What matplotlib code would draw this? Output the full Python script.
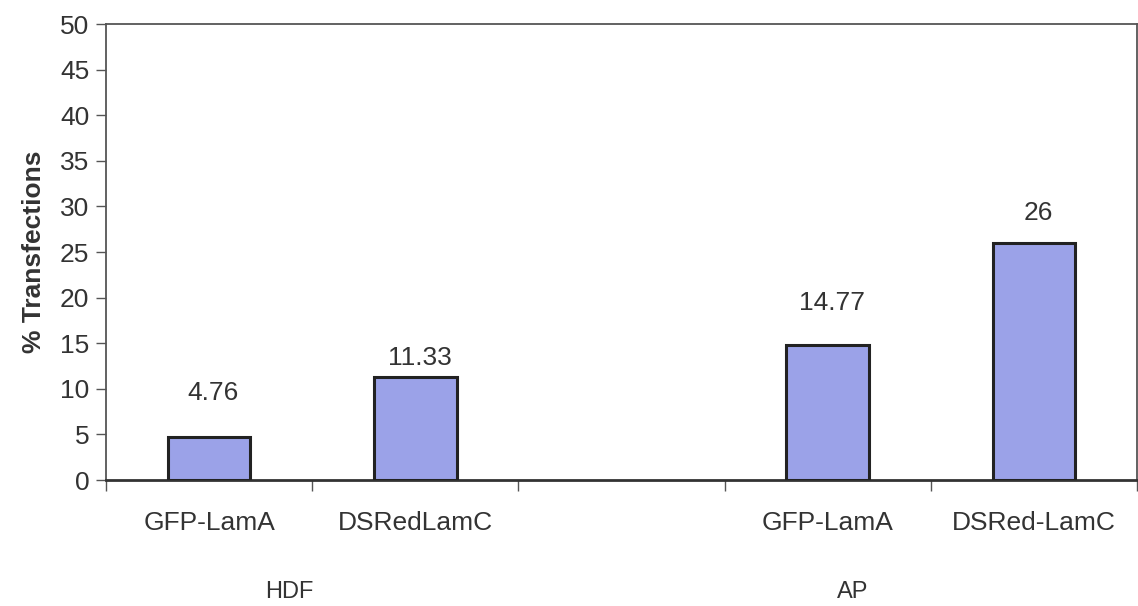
import matplotlib.pyplot as plt
import numpy as np

plt.rcParams["font.family"] = ["Liberation Sans", "DejaVu Sans"]

# -------------------------------------------------------
# Transfection efficiency per construct and cell type
# -------------------------------------------------------
constructs = ["GFP-LamA", "DSRedLamC", "", "GFP-LamA", "DSRed-LamC"]
pct_transfected = [4.76, 11.33, None, 14.77, 26]
value_text = ["4.76", "11.33", None, "14.77", "26"]
cell_types = ["HDF", "AP"]
cell_type_pos = [0.39, 3.12]

BAR_COLOR = "#9ba2e8"
EDGE = "#222222"
TEXT = "#333333"
FRAME = "#555555"

# gap above each bar for its value text (points)
label_gap = [23, 5, 22, 13]

fig = plt.figure(figsize=(11.38, 6.06), dpi=100)
ax = fig.add_axes([106 / 1138, 1 - 480 / 606, 1031 / 1138, 456 / 606])

x = np.arange(len(constructs))
keep = [i for i, v in enumerate(pct_transfected) if v is not None]
heights = [pct_transfected[i] for i in keep]
bars = ax.bar(x[keep], heights, width=0.4, color=BAR_COLOR,
              edgecolor=EDGE, linewidth=2.2, zorder=3)

for bar, i, gap in zip(bars, keep, label_gap):
    ax.annotate(value_text[i], (bar.get_x() + bar.get_width() / 2, bar.get_height()),
                xytext=(3, gap), textcoords="offset points",
                ha="center", va="bottom", fontsize=19, color=TEXT)

ax.set_xlim(-0.5, len(constructs) - 0.5)
ax.set_ylim(0, 50)
ax.set_yticks(np.arange(0, 51, 5))
ax.tick_params(axis="y", labelsize=19, labelcolor=TEXT, color=FRAME,
               length=7, width=1, pad=5)

# construct names sit under bars, ticks mark the slot boundaries
ax.set_xticks(np.arange(-0.5, len(constructs)), minor=False)
ax.set_xticklabels([])
ax.tick_params(axis="x", color=FRAME, length=8, width=1)
ax.set_xticks(x, minor=True)
ax.set_xticklabels(constructs, minor=True)
ax.tick_params(axis="x", which="minor", length=0, labelsize=19,
               labelcolor=TEXT, pad=22)

for name, pos in zip(cell_types, cell_type_pos):
    ax.text(pos, -0.245, name, transform=ax.get_xaxis_transform(),
            ha="center", va="center", fontsize=17, color=TEXT)

ax.set_ylabel("% Transfections", fontsize=19, fontweight="bold",
              color=TEXT, labelpad=10)

for spine in ax.spines.values():
    spine.set_color(FRAME)
    spine.set_linewidth(1.3)
ax.spines["bottom"].set_color("#333333")
ax.spines["bottom"].set_linewidth(2)

plt.savefig("out.png", dpi=100, facecolor="white")
plt.close()
